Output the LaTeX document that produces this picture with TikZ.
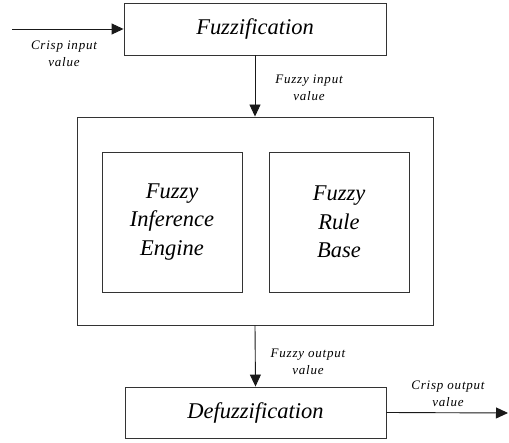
\documentclass[tikz,border=0pt]{standalone}
\usepackage{fontspec}
\setmainfont{Liberation Serif}[ItalicFont={Liberation Serif Italic}]
\newfontfamily\lblfont{Liberation Serif Italic}[LetterSpace=6]
\usetikzlibrary{arrows.meta}
\begin{document}
\begin{tikzpicture}[x=1pt,y=-1pt,
  blk/.style={draw=black!80,line width=0.9pt,rectangle,inner sep=0pt,align=center,
    font=\fontsize{22.5}{28.5}\selectfont\itshape},
  lbl/.style={inner sep=0pt,align=center,font=\lblfont\fontsize{13}{17}\selectfont},
  conn/.style={draw=black!90,line width=0.9pt,-{Triangle[length=12pt,width=11pt]}}]
\useasboundingbox (0,0) rectangle (509,443);
\node[blk,minimum width=262pt,minimum height=52pt] (fuzz) at (255,29) {Fuzzification};
\node[blk,minimum width=356pt,minimum height=208pt] (outer) at (255,221) {};
\node[blk,minimum width=140pt,minimum height=140pt] (ie) at (172,222) {Fuzzy\\Inference\\Engine};
\node[blk,minimum width=140pt,minimum height=140pt] (rb) at (339,222) {Fuzzy\\Rule\\Base};
\node[blk,minimum width=261pt,minimum height=51pt] (defuzz) at (255.5,412.5) {Defuzzification};
\coordinate (in) at (12,29);
\coordinate (out) at (508,413);
\draw[conn] (in) -- (fuzz.west);
\draw[conn] (fuzz.south) -- (outer.north);
\draw[conn] (outer.south) -- (defuzz.north);
\draw[conn] (defuzz.east) -- (out);
\node[lbl] (lin) at (64,54) {Crisp input\\value};
\node[lbl] (lfi) at (309,88) {Fuzzy input\\value};
\node[lbl] (lfo) at (308,362) {Fuzzy output\\value};
\node[lbl] (lout) at (448,394) {Crisp output\\value};
\end{tikzpicture}
\end{document}
